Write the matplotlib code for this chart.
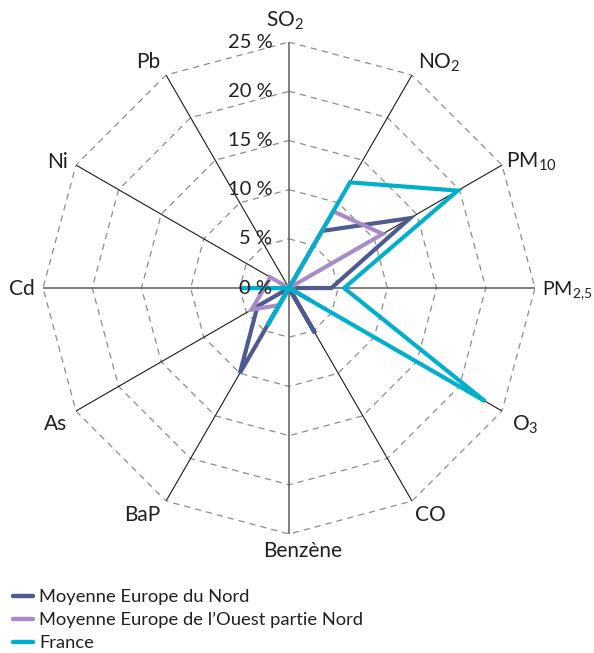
import numpy as np
import matplotlib
matplotlib.use("Agg")
import matplotlib.pyplot as plt
from matplotlib.lines import Line2D

plt.rcParams['font.family'] = ['Lato', 'DejaVu Sans']
plt.rcParams['mathtext.fontset'] = 'custom'
plt.rcParams['mathtext.rm'] = 'Lato'
plt.rcParams['mathtext.it'] = 'Lato'
plt.rcParams['mathtext.bf'] = 'Lato'

categories = ['SO$_2$', 'NO$_2$', 'PM$_{10}$', 'PM$_{2{,}5}$', 'O$_3$', 'CO',
              'Benzène', 'BaP', 'As', 'Cd', 'Ni', 'Pb']
series_names = ['Moyenne Europe du Nord',
                "Moyenne Europe de l’Ouest partie Nord",
                'France']
nord = [0, 6.7, 14.2, 4.3, 0, 5.3, 0, 10.0, 3.7, 0, 0, 0]
ouest = [0, 9.0, 11.0, 0, 2.5, 0, 0, 2.0, 4.4, 2.5, 2.2, 0]
france = [0, 12.4, 19.8, 5.6, 23.0, 0, 0, 4.4, 0, 4.8, 0, 0]
rticks = [0, 5, 10, 15, 20, 25]
rtick_labels = ['0 %', '5 %', '10 %', '15 %', '20 %', '25 %']
colors = ['#4f5b8e', '#a98cc6', '#00afcc']

text_color = '#231f20'

fig = plt.figure(figsize=(5.94, 6.53), dpi=100)
ax = fig.add_axes([0.0724, 0.1822, 0.8283, 0.7534], projection='polar')
ax.set_theta_zero_location('N')
ax.set_theta_direction(-1)
ax.set_ylim(0, 25)
ax.grid(False)
ax.spines['polar'].set_visible(False)
ax.set_xticks([])
ax.set_yticks([])
ax.patch.set_alpha(0)

n = len(categories)
theta = np.arange(n) * 2 * np.pi / n
theta_c = np.append(theta, theta[0])

# polygon grid
for r in rticks[1:]:
    ax.plot(theta_c, [r] * (n + 1), color='#8c8c8c', lw=0.9,
            ls=(0, (5, 4)), zorder=1)

# spokes
for i, t in enumerate(theta):
    if i % 3 == 0:
        ax.plot([t, t], [0, 25], color='#5a5a5a', lw=1.1, zorder=2)
    else:
        ax.plot([t, t], [0, 25], color='#1a1a1a', lw=0.8, zorder=2)

# series
for vals, col, name, z in zip([nord, ouest, france], colors, series_names, [3, 4, 5]):
    v = np.append(vals, vals[0])
    ax.plot(theta_c, v, color=col, lw=3.0, zorder=z, solid_joinstyle='miter',
            label=name)

# radial tick labels along SO2 axis
for r, lab in zip(rticks, rtick_labels):
    ax.annotate(lab, xy=(0, r), xytext=(-12, 0), textcoords='offset points',
                ha='right', va='center', fontsize=14.5, color=text_color, zorder=10)

# category labels
label_specs = [
    ((-3, 7), 'center', 'bottom', 15),
    ((4, 1), 'left', 'bottom', 15),
    ((3, 2), 'left', 'center', 15),
    ((5, -2), 'left', 'center', 14.2),
    ((7, -2), 'left', 'top', 15),
    ((2, -3), 'left', 'top', 15),
    ((10, -5), 'center', 'top', 15),
    ((-4, -3), 'right', 'top', 15),
    ((-6, -2), 'right', 'top', 15),
    ((-6, -1), 'right', 'center', 15),
    ((-6, 2), 'right', 'center', 15),
    ((-4, 2), 'right', 'bottom', 15),
]
for t, lab, (off, ha, va, fs) in zip(theta, categories, label_specs):
    ax.annotate(lab, xy=(t, 25), xytext=off, textcoords='offset points',
                ha=ha, va=va, fontsize=fs, color=text_color,
                annotation_clip=False)

handles = [Line2D([0], [0], color=c, lw=3.2, solid_capstyle='round') for c in colors]
fig.legend(handles, series_names, loc='upper left', bbox_to_anchor=(0.022, 0.098),
           frameon=False, fontsize=13.2, handlelength=1.1, handletextpad=0.33,
           labelspacing=0.38, borderaxespad=0, borderpad=0, labelcolor=text_color)

fig.savefig('out.png', dpi=100)
